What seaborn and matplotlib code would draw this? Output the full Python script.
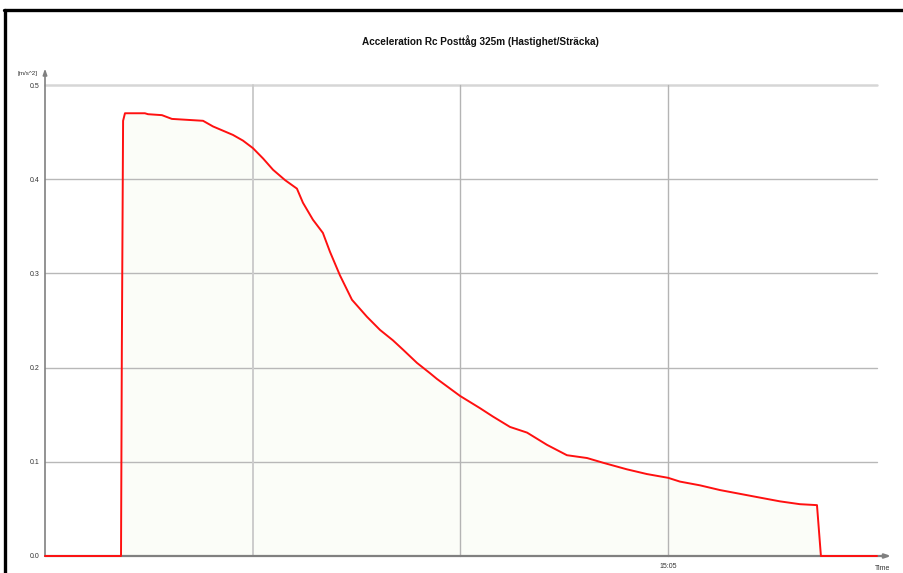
import matplotlib
matplotlib.use("Agg")
import matplotlib.pyplot as plt
import seaborn as sns
import pandas as pd
from matplotlib.lines import Line2D

# minutes since 15:02 and acceleration [m/s^2]
time_min = [0.000, 0.366, 0.370, 0.376, 0.385, 0.481, 0.496, 0.563, 0.611, 0.761,
            0.809, 0.905, 0.953, 1.001, 1.050, 1.098, 1.156, 1.213, 1.242, 1.290,
            1.338, 1.372, 1.420, 1.478, 1.550, 1.613, 1.675, 1.724, 1.791, 1.854,
            1.887, 1.998, 2.094, 2.157, 2.239, 2.321, 2.417, 2.513, 2.610, 2.687,
            2.802, 2.898, 3.000, 3.057, 3.154, 3.250, 3.346, 3.442, 3.539, 3.635,
            3.717, 3.736, 4.006]
accel = [0.000, 0.000, 0.220, 0.462, 0.470, 0.470, 0.469, 0.468, 0.464, 0.462,
         0.456, 0.447, 0.441, 0.433, 0.422, 0.410, 0.399, 0.390, 0.375, 0.357,
         0.343, 0.323, 0.298, 0.272, 0.254, 0.240, 0.229, 0.219, 0.205, 0.194,
         0.188, 0.170, 0.157, 0.148, 0.137, 0.131, 0.118, 0.107, 0.104, 0.099,
         0.092, 0.087, 0.083, 0.079, 0.075, 0.070, 0.066, 0.062, 0.058, 0.055,
         0.054, 0.000, 0.000]
y_ticks = [0.0, 0.1, 0.2, 0.3, 0.4, 0.5]
y_tick_labels = ["0.0", "0.1", "0.2", "0.3", "0.4", "0.5"]
x_ticks = [1, 2, 3, 4]
x_tick_labels = ["", "", "15:05", ""]
title = "Acceleration Rc Posttåg 325m (Hastighet/Sträcka)"

df = pd.DataFrame({"t": time_min, "a": accel})

sns.set_style("white")
plt.rcParams["font.family"] = ["Liberation Sans", "DejaVu Sans"]

W, H = 904, 573
fig = plt.figure(figsize=(W / 100, H / 100), dpi=100)
fig.patch.set_facecolor("white")

x0, x1 = 45, 877
y0, y1 = 556, 85
ax = fig.add_axes([x0 / W, 1 - y0 / H, (x1 - x0) / W, (y0 - y1) / H])
ax.set_facecolor("white")

ax.fill_between(df["t"], df["a"], 0, color="#fbfdf8", zorder=0, lw=0)

# grid
for v in [0.1, 0.2, 0.3, 0.4]:
    ax.axhline(v, color="#b8b8b8", lw=1.0, zorder=1)
ax.axhline(0.5, color="#d6d6d6", lw=1.8, zorder=1)
ax.axvline(1, color="#cccccc", lw=1.4, zorder=1)
for v in [2, 3]:
    ax.axvline(v, color="#b4b4b4", lw=1.0, zorder=1)

# axes with arrows
ax.annotate("", xy=(0, 1.035), xytext=(0, 0), xycoords="axes fraction",
            arrowprops=dict(arrowstyle="-|>,head_length=0.35,head_width=0.12",
                            color="#808080", lw=1.2, shrinkA=0, shrinkB=0),
            annotation_clip=False, zorder=2)
ax.annotate("", xy=(1.017, 0), xytext=(0, 0), xycoords="axes fraction",
            arrowprops=dict(arrowstyle="-|>,head_length=0.35,head_width=0.12",
                            color="#808080", lw=1.6, shrinkA=0, shrinkB=0),
            annotation_clip=False, zorder=2)

sns.lineplot(data=df, x="t", y="a", ax=ax, color="#ff1010", lw=1.4,
             sort=False, estimator=None, zorder=5, legend=False)
for ln in ax.lines:
    ln.set_clip_on(False)

ax.set_xlim(0, 4.006)
ax.set_ylim(0, 0.5)
for s in ax.spines.values():
    s.set_visible(False)

ax.set_yticks(y_ticks)
ax.set_yticklabels(y_tick_labels, fontsize=5, color="#333333")
ax.set_xticks(x_ticks)
ax.set_xticklabels(x_tick_labels, fontsize=5, color="#333333")
ax.tick_params(axis="y", length=3, width=0.8, color="#777777", pad=1)
ax.tick_params(axis="x", length=3, width=0.8, color="#555555", pad=2, direction="out")
ax.set_xlabel("")
ax.set_ylabel("")

fig.text(28 / W, 1 - 73 / H, "[m/s^2]", fontsize=4.5, ha="center", va="center", color="#333333")
fig.text(875 / W, 1 - 568 / H, "Time", fontsize=5, ha="left", va="center", color="#333333")
fig.text(480 / W, 1 - 41 / H, title, fontsize=7.2, fontweight="bold", ha="center",
         va="center", color="#111111")

# outer frame (left and top)
fig.add_artist(Line2D([5 / W, 5 / W], [0, 1 - 10 / H], color="black", lw=2.4,
                      transform=fig.transFigure))
fig.add_artist(Line2D([4 / W, 1], [1 - 10 / H, 1 - 10 / H], color="black", lw=2.4,
                      transform=fig.transFigure))

fig.savefig("out.png", dpi=100, facecolor="white")
